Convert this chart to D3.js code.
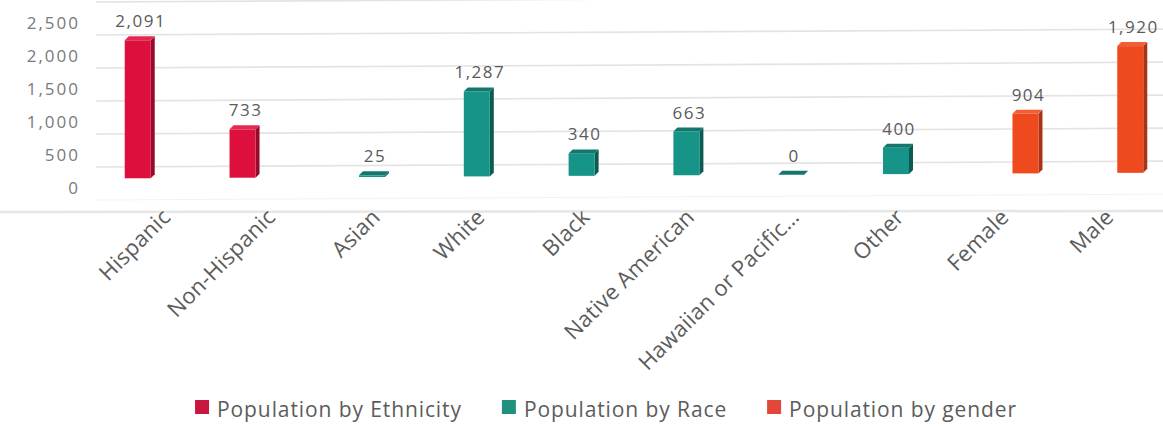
<!DOCTYPE html>
<html>
<head>
<meta charset="utf-8">
<script src="https://cdn.jsdelivr.net/npm/d3@7"></script>
<style>
  html, body { margin: 0; padding: 0; background: #ffffff; }
  svg { display: block; }
  text { font-family: "Open Sans", "DejaVu Sans", sans-serif; }
</style>
</head>
<body>
<svg id="chart" width="1163" height="428"></svg>
<script>
// ---- data ----
const categories = ["Hispanic", "Non-Hispanic", "Asian", "White", "Black", "Native American", "Hawaiian or Pacific\u2026", "Other", "Female", "Male"];
const seriesNames = ["Population by Ethnicity", "Population by Race", "Population by gender"];
const ethnicityValues = [2091, 733, null, null, null, null, null, null, null, null];
const raceValues = [null, null, 25, 1287, 340, 663, 0, 400, null, null];
const genderValues = [null, null, null, null, null, null, null, null, 904, 1920];
const yTickValues = [0, 500, 1000, 1500, 2000, 2500];
const yMax = 3000;

// ---- styles ----
const palette = [
  { front: "#dc0f3d", side: "#980a2a", top: "#e52a50", legend: "#c8173f" },
  { front: "#179488", side: "#0c5b53", top: "#12786e", legend: "#21907f" },
  { front: "#ef4a1e", side: "#a83414", top: "#f25f35", legend: "#e3473a" }
];
const seriesValues = [ethnicityValues, raceValues, genderValues];

const svg = d3.select("#chart");
const W = 1163;

const x = d3.scaleBand().domain(categories).range([112, 1160]).padding(0);
const xs = d3.scaleBand().domain(d3.range(seriesNames.length)).range([-37, 37]).padding(0);
const yS = d3.scaleLinear().domain([0, yMax]).range([0, 198]);
const tilt = px => -(px - 100) * 0.0055;

const wallBase = 200, floorBase = 178.5, labelBase = 188;

// gridlines on back wall (including top edge at yMax)
const gridVals = yTickValues.filter(v => v > 0).concat([yMax]);
svg.append("g").selectAll("line").data(gridVals).join("line")
  .attr("x1", 96).attr("x2", W)
  .attr("y1", d => wallBase + tilt(96) - yS(d))
  .attr("y2", d => wallBase + tilt(W) - yS(d))
  .attr("stroke", "#e3e3e3").attr("stroke-width", 1.6);

// wall bottom / floor lines
svg.append("line").attr("x1", 96).attr("x2", W)
  .attr("y1", wallBase + tilt(96)).attr("y2", wallBase + tilt(W))
  .attr("stroke", "#f3f3f3").attr("stroke-width", 1);
svg.append("line").attr("x1", 0).attr("x2", W)
  .attr("y1", 212).attr("y2", 211)
  .attr("stroke", "#e6e6e6").attr("stroke-width", 2.5);

// y axis tick labels
svg.append("g").selectAll("text").data(yTickValues).join("text")
  .attr("x", 80)
  .attr("y", d => labelBase - yS(d))
  .attr("dy", "0.35em")
  .attr("text-anchor", "end")
  .attr("font-size", 17)
  .attr("letter-spacing", 2)
  .attr("fill", "#7a7a7a")
  .text(d => d3.format(",")(d));

// bars
const frontW = 26, depthX = 4, depthY = 4;
const bars = [];
seriesValues.forEach((vals, si) => {
  vals.forEach((v, ci) => {
    if (v === null) return;
    const cx = x(categories[ci]) + x.bandwidth() / 2 + xs(si) + xs.bandwidth() / 2;
    bars.push({ si, ci, v, cx });
  });
});

const g = svg.append("g");
bars.forEach(b => {
  const base = floorBase + tilt(b.cx);
  const xl = b.cx - 15, xr = xl + frontW;
  const yt = base - yS(b.v);
  const c = palette[b.si];
  // side face
  g.append("path")
    .attr("d", `M${xr},${yt} L${xr + depthX},${yt - depthY} L${xr + depthX},${base - depthY} L${xr},${base} Z`)
    .attr("fill", c.side);
  // front face
  g.append("rect")
    .attr("x", xl).attr("y", yt).attr("width", frontW).attr("height", Math.max(0, base - yt))
    .attr("fill", c.front);
  // top face
  g.append("path")
    .attr("d", `M${xl},${yt} L${xr},${yt} L${xr + depthX},${yt - depthY} L${xl + depthX},${yt - depthY} Z`)
    .attr("fill", c.top);
  // data label
  g.append("text")
    .attr("x", b.cx + 1).attr("y", yt - depthY - 9)
    .attr("text-anchor", "middle")
    .attr("font-size", 17)
    .attr("letter-spacing", 1.5)
    .attr("fill", "#5a5a5a")
    .text(d3.format(",")(b.v));
});

// category labels (rotated)
svg.append("g").selectAll("text").data(categories).join("text")
  .attr("transform", d => `translate(${x(d) + x.bandwidth() / 2 + 2},${213}) rotate(-45)`)
  .attr("text-anchor", "end")
  .attr("dy", "0.35em")
  .attr("font-size", 22)
  .attr("letter-spacing", 0.3)
  .attr("fill", "#5c5c5c")
  .text(d => d);

// legend
const legend = svg.append("g");
const items = legend.selectAll("g").data(seriesNames).join("g");
items.append("rect").attr("width", 14).attr("height", 14).attr("y", -11)
  .attr("fill", (d, i) => palette[i].legend);
items.append("text").attr("x", 22).attr("y", 0).attr("dy", "0.3em")
  .attr("font-size", 21).attr("letter-spacing", 0.9)
  .attr("fill", "#5c5c5c").text(d => d);
const widths = [];
items.each(function () {
  const w = d3.select(this).select("text").node().getComputedTextLength() + 22;
  widths.push(w);
});
const gap = 40;
const total = d3.sum(widths) + gap * (widths.length - 1);
let start = 606 - total / 2;
items.attr("transform", (d, i) => {
  const t = `translate(${start},${411})`;
  start += widths[i] + gap;
  return t;
});
</script>
</body>
</html>
